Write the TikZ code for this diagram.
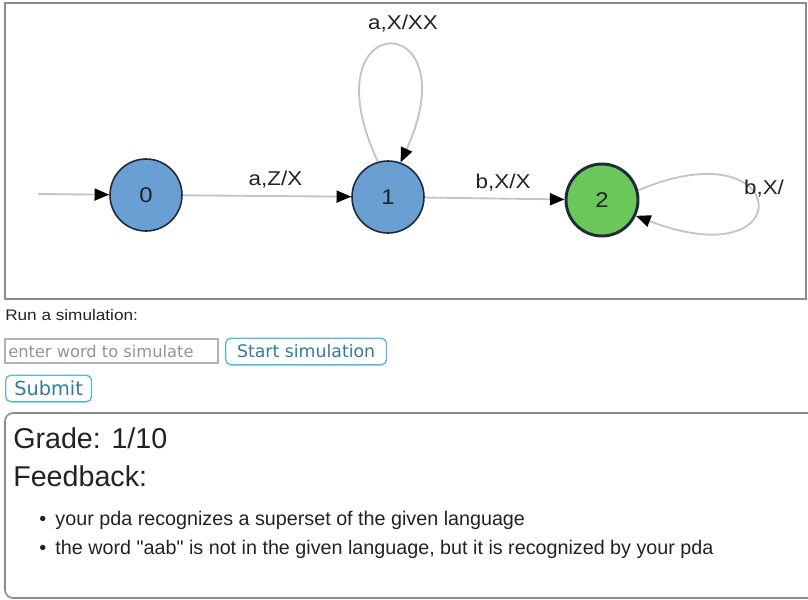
\documentclass[tikz,border=0pt]{standalone}
\usepackage{fontspec}
\setmainfont{Liberation Sans}
\newfontfamily\uifont{DejaVu Sans}
\newfontfamily\widefont[FakeStretch=1.12]{Liberation Sans}
\usetikzlibrary{arrows.meta,positioning,calc}
\definecolor{stateblue}{HTML}{6A9FD4}
\definecolor{stategreen}{HTML}{6CC75A}
\definecolor{statedraw}{HTML}{1E2B3A}
\definecolor{edgegray}{HTML}{C4C4C4}
\definecolor{framegray}{HTML}{8C8C8C}
\definecolor{btnblue}{HTML}{56B8DA}
\definecolor{btntext}{HTML}{2F7C9E}
\definecolor{textdark}{HTML}{222222}
\tikzset{
  state/.style={circle,draw=statedraw,line width=1.2pt,fill=stateblue,minimum size=54pt,
                inner sep=0pt,font=\widefont\fontsize{16}{18}\selectfont,text=textdark},
  accept/.style={state,fill=stategreen,line width=2.2pt},
  arr/.style={-{Triangle[length=11pt,width=9pt,color=black]},line width=1.4pt,edgegray},
  lbl/.style={font=\widefont\fontsize{15}{17}\selectfont,text=textdark,inner sep=0pt},
  btn/.style={draw=btnblue,line width=1pt,rounded corners=4pt,text=btntext,
              font=\uifont\fontsize{13}{15}\selectfont,inner xsep=8.5pt,inner ysep=0pt,
              minimum height=20pt},
  bullet/.style={font=\fontsize{14.8}{17}\selectfont,text=textdark,anchor=west,inner sep=0pt},
  heading/.style={font=\fontsize{21.5}{24}\selectfont,text=textdark,anchor=west,inner sep=0pt},
}
\begin{document}
\begin{tikzpicture}[x=0.75pt,y=-0.75pt]
  \useasboundingbox (0,0) rectangle (808,600);
  % automaton frame
  \draw[framegray,line width=2pt] (5,3) rectangle (806,299);
  \node[state]  (q0) at (146,195) {0};
  \node[state]  (q1) at (388,197) {1};
  \node[accept] (q2) at (602,200) {2};
  \coordinate (start) at (38,194);
  \draw[arr] (start) -- (q0);
  \draw[arr] (q0) -- node[lbl,pos=0.55,above=5pt] {a,Z/X} (q1);
  \draw[arr] (q1) -- node[lbl,pos=0.56,above=5pt] {b,X/X} (q2);
  \draw[arr] (q1.106) .. controls (305,6) and (472,6) .. (q1.70);
  \node[lbl] (l11) at (403,24) {a,X/XX};
  \draw[arr] (q2.15) .. controls (792,125) and (802,280) .. (q2.-25);
  \node[lbl] (l22) at (764,189) {b,X/};
  % simulation controls
  \node[font=\widefont\fontsize{11.5}{13}\selectfont,text=textdark,anchor=west,inner sep=0pt]
    (run) at (5,315) {Run a simulation:};
  \draw[gray!60,line width=0.8pt] (5,339) rectangle (218,363);
  \node[font=\uifont\fontsize{12.2}{14}\selectfont,text=gray!85,anchor=west,inner sep=0pt]
    (word) at (8,351) {enter word to simulate};
  \node[btn,anchor=west] (startsim) at (225,351.5) {Start simulation};
  \node[btn,anchor=west,font=\uifont\fontsize{14.5}{16}\selectfont,inner xsep=6.5pt]
    (submit) at (5,388.5) {Submit};
  % feedback panel
  \draw[framegray,line width=1.2pt,rounded corners=6pt] (5,413) rectangle (830,598);
  \node[heading] (grade) at (13,438) {Grade: 1/10};
  \node[heading] (feedback) at (13,476) {Feedback:};
  \node[bullet] (fb1) at (39,520) {\textbullet\hspace{7pt}your pda recognizes a superset of the given language};
  \node[bullet] (fb2) at (39,549) {\textbullet\hspace{7pt}the word \textquotedbl aab\textquotedbl\ is not in the given language, but it is recognized by your pda};
\end{tikzpicture}
\end{document}
